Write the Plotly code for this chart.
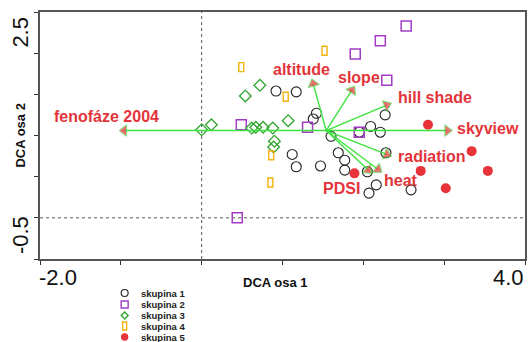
import plotly.graph_objects as go

# DCA site scores (axis 1, axis 2) for each group
skupina1_x = [0.92, 1.17, 1.42, 1.38, 2.27, 2.09, 2.21, 1.60, 1.95, 1.12,
              1.17, 1.47, 1.69, 1.77, 1.77, 2.05, 2.28, 2.16, 2.07, 2.59]
skupina1_y = [1.54, 1.53, 1.27, 1.20, 1.25, 1.11, 1.04, 0.99, 1.04, 0.77,
              0.62, 0.63, 0.79, 0.70, 0.58, 0.56, 0.79, 0.40, 0.30, 0.34]
skupina2_x = [2.53, 2.21, 1.90, 2.29, 0.49, 1.31, 1.95, 0.44]
skupina2_y = [2.33, 2.15, 1.99, 1.67, 1.13, 1.10, 1.04, 0.00]
skupina3_x = [0.00, 0.12, 0.54, 0.72, 0.62, 0.67, 0.76, 0.88, 1.07, 0.90, 0.89]
skupina3_y = [1.07, 1.13, 1.48, 1.61, 1.09, 1.10, 1.10, 1.09, 1.18, 0.93, 0.86]
skupina4_x = [0.49, 1.04, 1.52, 0.86, 0.85]
skupina4_y = [1.83, 1.47, 2.03, 0.76, 0.43]
skupina5_x = [2.80, 3.34, 2.71, 3.54, 3.02, 1.89]
skupina5_y = [1.13, 0.81, 0.57, 0.57, 0.36, 0.54]

# environmental variables: arrow tips and common origin
env_names = ["fenofáze 2004", "altitude", "slope", "hill shade",
             "skyview", "radiation", "heat", "PDSI"]
env_x = [-0.96, 1.38, 1.86, 2.29, 3.04, 2.29, 2.18, 2.06]
env_y = [1.06, 1.63, 1.55, 1.37, 1.06, 0.77, 0.59, 0.58]
origin_x, origin_y = 1.54, 1.06

# axes
x_range = [-2.0, 4.0]
y_range = [-0.5, 2.5]
x_tickvals = [-2, -1, 0, 1, 2, 3, 4]
y_tickvals = [-0.5, 0, 0.5, 1.0, 1.5, 2.0, 2.5]
x_ticklabels = ["-2.0", "4.0"]
y_ticklabels = ["-0.5", "2.5"]
x_title = "DCA osa 1"
y_title = "DCA osa 2"

legend_names = ["skupina 1", "skupina 2", "skupina 3", "skupina 4", "skupina 5"]

FONT = "Liberation Sans, Arial, sans-serif"
PURPLE = "#a23cc4"
GREEN_PT = "#2fa52f"
ORANGE = "#f2b30a"
RED_PT = "#e8333a"
RED_TXT = "#e3343a"
GREEN_ARROW = "#3ee23e"

fig = go.Figure()

# reference lines through zero
fig.add_vline(x=0, line=dict(color="#555", width=1, dash="dot"), layer="below")
fig.add_hline(y=0, line=dict(color="#555", width=1, dash="dot"), layer="below")

# site points
fig.add_trace(go.Scatter(x=skupina1_x, y=skupina1_y, mode="markers", name=legend_names[0],
                         marker=dict(symbol="circle-open", size=10, color="#222",
                                     line=dict(width=1.1))))
fig.add_trace(go.Scatter(x=skupina2_x, y=skupina2_y, mode="markers", name=legend_names[1],
                         marker=dict(symbol="square-open", size=10, color=PURPLE,
                                     line=dict(width=1.5))))
fig.add_trace(go.Scatter(x=skupina3_x, y=skupina3_y, mode="markers", name=legend_names[2],
                         marker=dict(symbol="diamond-open", size=9, color=GREEN_PT,
                                     line=dict(width=1.3))))
# group 4: narrow upright rectangles
for gx, gy in zip(skupina4_x, skupina4_y):
    fig.add_shape(type="rect", xref="x", yref="y", xsizemode="pixel", ysizemode="pixel",
                  xanchor=gx, yanchor=gy, x0=-2.5, x1=2.5, y0=-4.5, y1=4.5,
                  line=dict(color=ORANGE, width=1.4), fillcolor="rgba(0,0,0,0)")
fig.add_trace(go.Scatter(x=skupina4_x, y=skupina4_y, mode="markers", name=legend_names[3],
                         marker=dict(size=9, color="rgba(0,0,0,0)")))
fig.add_trace(go.Scatter(x=skupina5_x, y=skupina5_y, mode="markers", name=legend_names[4],
                         marker=dict(symbol="circle", size=10, color=RED_PT,
                                     line=dict(width=0))))

# environmental arrows
for name, ex, ey in zip(env_names, env_x, env_y):
    fig.add_trace(go.Scatter(
        x=[origin_x, ex], y=[origin_y, ey], mode="lines+markers", name=name,
        line=dict(color=GREEN_ARROW, width=1.4),
        marker=dict(symbol="triangle-up", size=[0, 10], angleref="previous",
                    color=RED_PT, line=dict(color=GREEN_ARROW, width=1)),
        hoverinfo="skip"))

# arrow labels (pixel offsets from tip, anchor)
label_style = {
    "fenofáze 2004": (-18, 14, "center"),
    "altitude": (-12, 14, "center"),
    "slope": (7, 13, "center"),
    "hill shade": (9, 8, "left"),
    "skyview": (8, 2, "left"),
    "radiation": (9, -2, "left"),
    "heat": (4, -11, "left"),
    "PDSI": (-6, -18, "right"),
}
for name, ex, ey in zip(env_names, env_x, env_y):
    dx, dy, anc = label_style[name]
    fig.add_annotation(x=ex, y=ey, xref="x", yref="y", text=name, showarrow=False,
                       xanchor=anc, yanchor="middle", xshift=dx, yshift=dy,
                       font=dict(family=FONT, size=16, color=RED_TXT, weight="bold"))

# tick labels at axis ends
fig.add_annotation(x=x_tickvals[0], y=-0.075, xref="x", yref="paper", text=x_ticklabels[0],
                   showarrow=False, xanchor="left", yanchor="middle", xshift=-3,
                   font=dict(family=FONT, size=22, color="#111"))
fig.add_annotation(x=x_tickvals[-1], y=-0.075, xref="x", yref="paper", text=x_ticklabels[1],
                   showarrow=False, xanchor="right", yanchor="middle", xshift=1,
                   font=dict(family=FONT, size=22, color="#111"))
fig.add_annotation(x=-0.041, y=y_tickvals[0], xref="paper", yref="y", text=y_ticklabels[0],
                   showarrow=False, xanchor="center", yanchor="bottom", textangle=-90, yshift=3,
                   font=dict(family=FONT, size=22, color="#111"))
fig.add_annotation(x=-0.041, y=y_tickvals[-1], xref="paper", yref="y", text=y_ticklabels[1],
                   showarrow=False, xanchor="center", yanchor="top", textangle=-90, yshift=-3,
                   font=dict(family=FONT, size=22, color="#111"))

# axis titles
fig.add_annotation(x=0.485, y=-0.097, xref="paper", yref="paper", text=x_title,
                   showarrow=False, xanchor="center", yanchor="middle",
                   font=dict(family=FONT, size=13, color="#111", weight="bold"))
fig.add_annotation(x=-0.041, y=0.5, xref="paper", yref="paper", text=y_title,
                   showarrow=False, xanchor="center", yanchor="middle", textangle=-90,
                   font=dict(family=FONT, size=13, color="#111", weight="bold"))

# legend drawn below the plot
plot_left, plot_w, plot_bottom, plot_h = 40, 487, 259, 247
def px_to_paper(px, py):
    return (px - plot_left) / plot_w, (plot_bottom - py) / plot_h

legend_rows = [293, 304.5, 315.5, 326, 337]
sym_px, txt_px = 125, 139
for i, (name, row) in enumerate(zip(legend_names, legend_rows)):
    sx, sy = px_to_paper(sym_px, row)
    common = dict(xref="paper", yref="paper", xsizemode="pixel", ysizemode="pixel",
                  xanchor=sx, yanchor=sy)
    if i == 0:
        fig.add_shape(type="circle", x0=-3.5, x1=3.5, y0=-3.5, y1=3.5,
                      line=dict(color="#222", width=1.1), **common)
    elif i == 1:
        fig.add_shape(type="rect", x0=-3.5, x1=3.5, y0=-3.5, y1=3.5,
                      line=dict(color=PURPLE, width=1.4), **common)
    elif i == 2:
        fig.add_shape(type="path", path="M -3.5 0 L 0 3.5 L 3.5 0 L 0 -3.5 Z",
                      line=dict(color=GREEN_PT, width=1.3), **common)
    elif i == 3:
        fig.add_shape(type="rect", x0=-2, x1=2, y0=-4, y1=4,
                      line=dict(color=ORANGE, width=1.3), **common)
    else:
        fig.add_shape(type="circle", x0=-3.7, x1=3.7, y0=-3.7, y1=3.7,
                      line=dict(color=RED_PT, width=0), fillcolor=RED_PT, **common)
    tx, ty = px_to_paper(txt_px, row)
    fig.add_annotation(x=tx, y=ty, xref="paper", yref="paper", text=name, showarrow=False,
                       xanchor="left", yanchor="middle",
                       font=dict(family=FONT, size=9.5, color="#222", weight="bold"))

axis_common = dict(showgrid=False, zeroline=False, showticklabels=False,
                   ticks="outside", ticklen=4, tickwidth=1.3, tickcolor="#333",
                   showline=True, linecolor="#555", linewidth=2, mirror=True)
fig.update_xaxes(range=x_range, tickvals=x_tickvals, **axis_common)
fig.update_yaxes(range=y_range, tickvals=y_tickvals, **axis_common)

fig.update_layout(
    width=529, height=342,
    margin=dict(l=40, r=2, t=12, b=83),
    plot_bgcolor="white", paper_bgcolor="white",
    showlegend=False,
    font=dict(family=FONT),
)

fig.write_html("out.html")
